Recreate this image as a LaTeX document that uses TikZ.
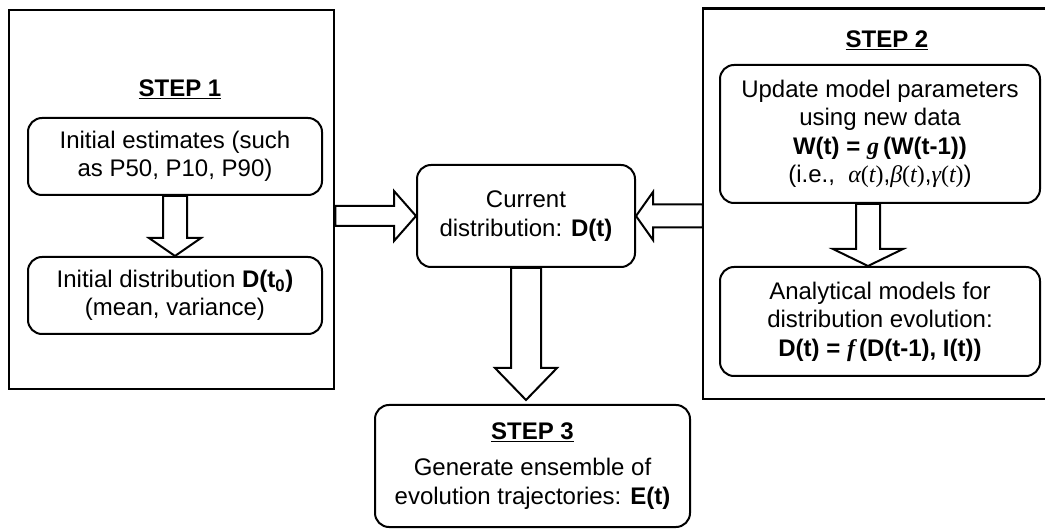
\documentclass[tikz,border=0pt]{standalone}
\usepackage{fontspec}
\setmainfont{Liberation Sans}
\newfontfamily\mathserif{Liberation Serif}
\usetikzlibrary{calc}
\newcommand\mi[1]{{\mathserif\itshape #1}}
\newcommand\mr[1]{{\mathserif #1}}
\newcommand\blockarrow[5]{%
  \coordinate (ba-h) at ($(#2)!#4!(#1)$);
  \draw[barrow] ($(#1)!#3!90:(#2)$) -- ($(ba-h)!#3!90:(#2)$) -- ($(ba-h)!#5!90:(#2)$) -- (#2)
     -- ($(ba-h)!#5!-90:(#2)$) -- ($(ba-h)!#3!-90:(#2)$) -- ($(#1)!#3!-90:(#2)$) -- cycle;}
\begin{document}
\begin{tikzpicture}[x=1pt,y=-1pt,
  txt/.style={font=\fontsize{24}{28.5}\selectfont, align=center, inner sep=0pt},
  rbox/.style={txt, draw, line width=2pt, rounded corners=14pt},
  frame/.style={draw, line width=2.6pt, inner sep=0pt},
  barrow/.style={draw, line width=2pt, fill=white, line join=miter}]
\useasboundingbox (0,0) rectangle (1045,529);
% frames
\node[frame, minimum width=325pt, minimum height=379pt] (s1) at (171.5,199.5) {};
\node[inner sep=0pt, minimum width=342pt, minimum height=390pt] (s2) at (874,204) {};
\draw[line width=2.6pt] (s2.north east) -- (s2.north west) -- (s2.south west) -- (s2.south east);
% titles
\node[txt, font=\fontsize{24}{28.5}\selectfont\bfseries] (t1) at (180,89) {\underline{STEP 1}};
\node[txt, font=\fontsize{24}{28.5}\selectfont\bfseries] (t2) at (887,40) {\underline{STEP 2}};
% boxes
\node[rbox, minimum width=294pt, minimum height=77pt] (est) at (175,156.5)
  {Initial estimates (such\\as P50, P10, P90)};
\node[rbox, minimum width=294pt, minimum height=77pt] (init) at (175,295.5)
  {Initial distribution \textbf{D(t\textsubscript{0})}\\(mean, variance)};
\node[rbox, minimum width=218pt, minimum height=102pt] (cur) at (526,216)
  {Current\\distribution: \textbf{D(t)}};
\node[rbox, minimum width=320pt, minimum height=138pt] (upd) at (880,134)
  {Update model parameters\\using new data\\\textbf{W(t) = \mi{g}\,(W(t-1))}\\(i.e.,\ \ \mi{α}\mr{(}\mi{t}\mr{)},\mi{β}\mr{(}\mi{t}\mr{)},\mi{γ}\mr{(}\mi{t}\mr{)})};
\node[rbox, minimum width=320pt, minimum height=109pt] (ana) at (880,321.5)
  {Analytical models for\\distribution evolution:\\\textbf{D(t) = \mi{f}\,(D(t-1), I(t))}};
\node[rbox, minimum width=315pt, minimum height=122pt] (s3) at (532.5,466)
  {\textbf{\underline{STEP 3}}\\[8pt]Generate ensemble of\\evolution trajectories: \textbf{E(t)}};
% block arrows
\blockarrow{est.south}{init.north}{12pt}{18pt}{26pt}
\blockarrow{s1.east |- cur.west}{cur.west}{10pt}{22pt}{25pt}
\blockarrow{s2.west |- cur.east}{cur.east}{11.5pt}{17pt}{24pt}
\coordinate (u1) at ($(upd.south)+(-12,0)$);
\coordinate (u2) at ($(ana.north)+(-12,0)$);
\blockarrow{u1}{u2}{12pt}{17pt}{35pt}
\coordinate (c2) at ($(cur.south |- s3.north)+(0,-4)$);
\blockarrow{cur.south}{c2}{15pt}{32pt}{31pt}
\end{tikzpicture}
\end{document}
